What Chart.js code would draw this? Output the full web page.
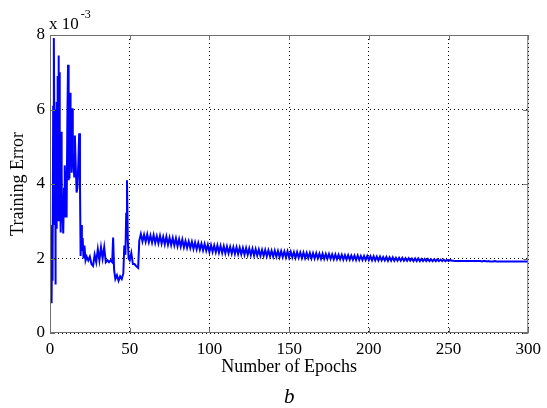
<!DOCTYPE html>
<html>
<head>
<meta charset="utf-8">
<script src="https://cdn.jsdelivr.net/npm/chart.js@4.4.1/dist/chart.umd.min.js"></script>
<style>
    body { margin: 0; background: #fff; }
    #chart { display: block; }
</style>
</head>
<body>
<canvas id="chart" width="547" height="408"></canvas>
<script>
// training error, in units of 1e-3
// first part is messy so it is read off point by point
const earlyEpochs = [0, 0.3, 0.6, 1.0, 1.3, 1.6, 2.0, 2.3, 2.5, 2.8,
    3.0, 3.2, 3.4, 3.6, 3.8, 4.1, 4.3, 4.6, 4.8, 5.1,
    5.3, 5.6, 5.8, 6.1, 6.3, 6.6, 6.8, 7.1, 7.3, 7.6,
    7.8, 8.3, 8.8, 9.1, 9.4, 9.9, 10.4, 10.9, 11.3, 11.6,
    11.8, 12.2, 12.6, 12.9, 13.2, 13.6, 14.0, 14.3, 14.6, 15.2,
    15.6, 16.2, 16.7, 17.2, 17.8, 18.3, 18.8, 19.2, 19.6, 20.0,
    20.5, 21.0, 21.6, 22.3, 23, 24, 25, 26, 27, 28,
    29, 30, 31, 32, 33, 34, 35, 36, 37, 38,
    39, 39.6, 40.2, 41, 42, 43, 44, 45, 46, 46.6,
    47.3, 47.8, 48.3, 48.8, 49.3, 50, 51, 52, 53, 54,
    55.3]
const earlyErr = [2.5, 1.35, 2.6, 0.8, 2.9, 1.4, 6.1, 3.0, 7.92, 5.2,
    2.9, 6.0, 1.3, 3.2, 4.0, 2.8, 6.2, 3.6, 6.9, 4.2,
    7.45, 3.0, 7.0, 3.4, 4.4, 2.7, 3.6, 5.4, 4.3, 3.0,
    3.2, 2.67, 3.9, 3.1, 4.5, 3.5, 3.1, 5.8, 7.2, 4.1,
    5.0, 4.15, 6.45, 4.6, 5.6, 4.3, 6.03, 4.8, 4.7, 4.2,
    5.3, 4.4, 3.77, 3.9, 4.6, 5.36, 4.0, 2.07, 2.9, 2.2,
    2.55, 2.0, 2.35, 1.95, 2.05, 1.95, 2.05, 1.85, 1.8, 2.1,
    1.9, 2.25, 1.95, 2.3, 2.0, 2.3, 1.9, 1.95, 1.9, 1.95,
    1.9, 2.56, 1.7, 1.45, 1.55, 1.4, 1.52, 1.45, 1.6, 2.35,
    2.1, 3.2, 4.1, 2.5, 2.0, 1.95, 2.15, 1.85, 1.85, 1.8,
    1.75]

// from epoch 56 on, one value per epoch (zig-zag band)
const lateStart = 56
const lateErr = [
    2.48, 2.66, 2.46, 2.64, 2.45, 2.65, 2.44, 2.62, 2.43, 2.63,
    2.42, 2.60, 2.41, 2.61, 2.40, 2.58, 2.38, 2.59, 2.37, 2.56,
    2.36, 2.55, 2.35, 2.54, 2.33, 2.52, 2.32, 2.51, 2.30, 2.47,
    2.29, 2.46, 2.28, 2.45, 2.26, 2.43, 2.25, 2.42, 2.24, 2.40,
    2.22, 2.39, 2.21, 2.37, 2.17, 2.36, 2.18, 2.35, 2.17, 2.35,
    2.16, 2.34, 2.15, 2.33, 2.14, 2.32, 2.14, 2.31, 2.13, 2.30,
    2.12, 2.30, 2.12, 2.29, 2.11, 2.28, 2.10, 2.28, 2.10, 2.27,
    2.09, 2.26, 2.08, 2.25, 2.08, 2.24, 2.07, 2.23, 2.07, 2.23,
    2.06, 2.22, 2.06, 2.21, 2.05, 2.21, 2.05, 2.20, 2.04, 2.20,
    2.04, 2.19, 2.03, 2.19, 2.03, 2.18, 2.03, 2.17, 2.02, 2.17,
    2.02, 2.16, 2.01, 2.16, 2.01, 2.15, 2.01, 2.15, 2.00, 2.14,
    2.00, 2.14, 2.00, 2.13, 1.99, 2.13, 1.99, 2.12, 1.99, 2.12,
    1.99, 2.11, 1.98, 2.11, 1.98, 2.10, 1.98, 2.10, 1.97, 2.09,
    1.97, 2.09, 1.97, 2.08, 1.97, 2.08, 1.96, 2.08, 1.96, 2.07,
    1.96, 2.07, 1.96, 2.07, 1.96, 2.06, 1.95, 2.06, 1.95, 2.05,
    1.95, 2.05, 1.95, 2.04, 1.95, 2.04, 1.94, 2.03, 1.94, 2.03,
    1.94, 2.02, 1.94, 2.02, 1.94, 2.02, 1.94, 2.01, 1.94, 2.01,
    1.94, 2.00, 1.93, 2.00, 1.93, 2.00, 1.93, 1.99, 1.93, 1.99,
    1.93, 1.99, 1.93, 1.98, 1.93, 1.98, 1.93, 1.98, 1.93, 1.97,
    1.93, 1.97, 1.93, 1.96, 1.93, 1.96, 1.94, 1.94, 1.93, 1.93,
    1.93, 1.93, 1.93, 1.93, 1.93, 1.93, 1.93, 1.93, 1.93, 1.93,
    1.93, 1.93, 1.93, 1.93, 1.93, 1.92, 1.93, 1.93, 1.92, 1.93,
    1.92, 1.92, 1.92, 1.93, 1.92, 1.92, 1.92, 1.92, 1.92, 1.92,
    1.92, 1.92, 1.92, 1.92, 1.92, 1.92, 1.92, 1.92, 1.92, 1.92,
    1.92, 1.92, 1.92, 1.92, 1.92]

const xTicks = [0, 50, 100, 150, 200, 250, 300]
const yTicks = [0, 2, 4, 6, 8]
const xTitle = "Number of Epochs"
const yTitle = "Training Error"
const subLabel = "b"

let points = []
for (let i = 0; i < earlyEpochs.length; i++) {
    points.push({x: earlyEpochs[i], y: earlyErr[i]})
}
for (let i = 0; i < lateErr.length; i++) {
    points.push({x: lateStart + i, y: lateErr[i]})
}

const serif = "'Liberation Serif', 'Times New Roman', serif"
const boxColor = "#6f6f6f"

// matlab style box, inward ticks, exponent and the "b" caption
const matlabBits = {
    id: "matlabBits",
    afterDraw(chart) {
        const ctx = chart.ctx
        const a = chart.chartArea
        const xs = chart.scales.x
        const ys = chart.scales.y
        ctx.save()
        ctx.strokeStyle = boxColor
        ctx.lineWidth = 1
        ctx.strokeRect(a.left + 0.5, a.top + 0.5, a.right - a.left - 1, a.bottom - a.top - 1)
        ctx.beginPath()
        xTicks.forEach(t => {
            const px = Math.round(xs.getPixelForValue(t)) + 0.5
            ctx.moveTo(px, a.bottom); ctx.lineTo(px, a.bottom - 5)
            ctx.moveTo(px, a.top); ctx.lineTo(px, a.top + 5)
        })
        yTicks.forEach(t => {
            const py = Math.round(ys.getPixelForValue(t)) + 0.5
            ctx.moveTo(a.left, py); ctx.lineTo(a.left + 5, py)
            ctx.moveTo(a.right, py); ctx.lineTo(a.right - 5, py)
        })
        ctx.stroke()

        ctx.fillStyle = "#000"
        ctx.textBaseline = "alphabetic"
        ctx.textAlign = "left"
        ctx.font = "17px " + serif
        ctx.fillText("x 10", 49, 29)
        const w = ctx.measureText("x 10").width
        ctx.font = "12px " + serif
        ctx.fillText("-3", 49 + w + 2, 18)

        ctx.font = "italic 21px " + serif
        ctx.textAlign = "center"
        ctx.fillText(subLabel, (a.left + a.right) / 2, 403)
        ctx.restore()
    }
}

let ctx = document.querySelector("#chart")
let config = {
    type: "line",
    data: {
        datasets: [{
            data: points,
            borderColor: "#0000ff",
            borderWidth: 2,
            pointRadius: 0,
            tension: 0,
            fill: false
        }]
    },
    options: {
        responsive: false,
        animation: false,
        layout: {
            padding: {left: 0, right: 17, top: 35, bottom: 30}
        },
        plugins: {
            legend: {display: false},
            tooltip: {enabled: false}
        },
        scales: {
            x: {
                type: "linear",
                min: 0,
                max: 300,
                afterBuildTicks: (s) => { s.ticks = xTicks.map(v => ({value: v})) },
                afterFit: (s) => { s.height = 45 },
                ticks: {
                    color: "#000",
                    padding: 6,
                    maxRotation: 0,
                    font: {family: serif, size: 17}
                },
                grid: {
                    color: "#000",
                    lineWidth: 1,
                    drawTicks: false
                },
                border: {display: false, dash: [1, 3]},
                title: {
                    display: true,
                    text: xTitle,
                    color: "#000",
                    padding: {top: 0, bottom: 0},
                    font: {family: serif, size: 18}
                }
            },
            y: {
                min: 0,
                max: 8,
                afterBuildTicks: (s) => { s.ticks = yTicks.map(v => ({value: v})) },
                afterFit: (s) => { s.width = 50 },
                ticks: {
                    color: "#000",
                    padding: 5,
                    font: {family: serif, size: 17}
                },
                grid: {
                    color: "#000",
                    lineWidth: 1,
                    drawTicks: false
                },
                border: {display: false, dash: [1, 3]},
                title: {
                    display: true,
                    text: yTitle,
                    color: "#000",
                    padding: {top: 7, bottom: 0},
                    font: {family: serif, size: 18}
                }
            }
        }
    },
    plugins: [matlabBits]
}
let chart = new Chart(ctx, config)
</script>
</body>
</html>
